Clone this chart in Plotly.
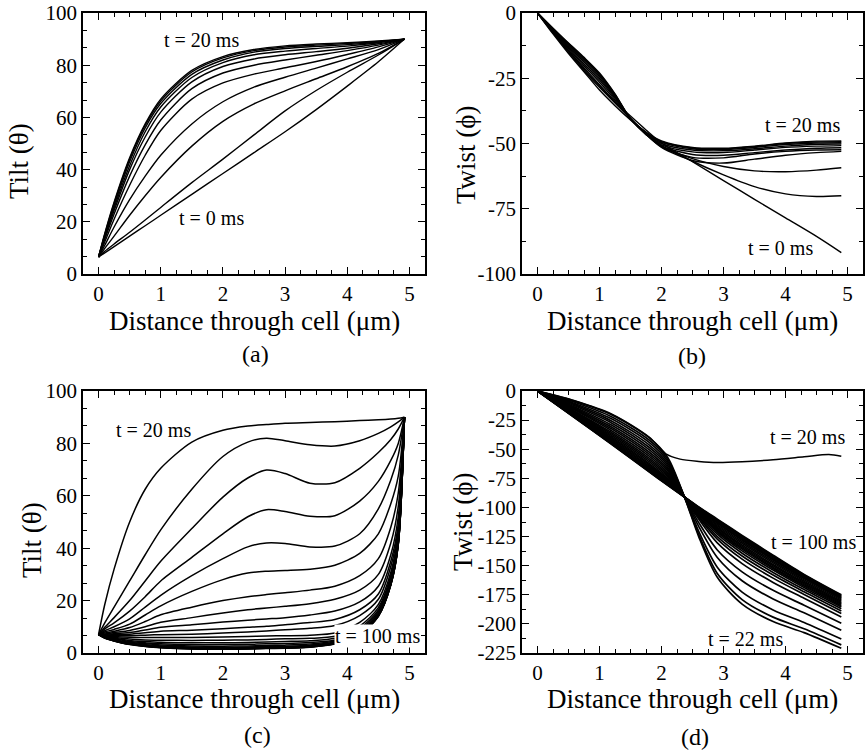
import plotly.graph_objects as go

# ---------------- DATA ----------------
# Panel (a): tilt, t = 0 ... 20 ms (every 2 ms)
a_x = [0, 0.1, 0.25, 0.5, 0.75, 1.0, 1.5, 2.0, 2.5, 3.0, 3.5, 4.0, 4.5, 4.92]
a_t0 = [6.5, 8.1, 10.5, 14.5, 18.5, 22.5, 30.5, 38.5, 46.5, 54.5, 63, 72, 81.3, 90]
a_t2 = [6.5, 8.7, 11.5, 16, 20.7, 25.5, 35, 44, 53.3, 62.5, 70.3, 77.3, 83.9, 90]
a_t4 = [6.5, 9.8, 14.5, 22.5, 30, 37, 49, 58.5, 65.2, 70.2, 74.8, 79.4, 84.5, 90]
a_t6 = [6.5, 11, 18, 28.5, 37.5, 45.5, 57.5, 66, 71.6, 75.4, 78.9, 82.4, 86, 90]
a_t8 = [6.5, 12.3, 21, 34, 45.5, 55, 67, 73.2, 76.6, 79, 81.4, 84.1, 87, 90]
a_t10 = [6.5, 13.3, 23, 37.5, 49.5, 59, 71, 77, 80, 82, 83.8, 85.6, 87.7, 90]
a_t12 = [6.5, 14, 24.3, 40, 52.5, 62, 73.6, 79.5, 82.4, 84, 85.2, 86.5, 88.2, 90]
a_t14 = [6.5, 14.4, 25.3, 41.5, 54.5, 64, 75.3, 81, 84, 85.4, 86.4, 87.3, 88.6, 90]
a_t16 = [6.5, 14.8, 26.2, 43, 56, 65.3, 76.5, 82, 85, 86.4, 87.2, 87.9, 88.9, 90]
a_t18 = [6.5, 15.2, 27, 44, 57, 66.3, 77.4, 82.8, 85.6, 87, 87.7, 88.3, 89.1, 90]
a_t20 = [6.5, 15.5, 27.5, 44.5, 57.5, 67, 78, 83.3, 86, 87.4, 88.1, 88.6, 89.3, 90]

# Panel (b): twist, t = 0 ... 20 ms
b_x = [0, 0.25, 0.5, 0.75, 1.0, 1.25, 1.5, 1.75, 2.0, 2.5, 3.0, 3.5, 4.0, 4.5, 4.9]
b_t0 = [0, -7.5, -14.5, -21.5, -28, -34, -39.5, -44.8, -49.8, -57, -64.2, -71.4, -78.5, -85.6, -91.8]
b_t2 = [0, -8, -15.5, -22.5, -29.5, -35.5, -41, -46, -50.8, -56.8, -62, -66.5, -69.3, -70.3, -70]
b_t4 = [0, -7.6, -15, -22, -28.5, -34.5, -40.5, -46, -51, -55.8, -58.8, -60.5, -60.8, -60.2, -59.3]
b_t6 = [0, -7.2, -14.3, -21, -27.5, -34, -40.5, -46.5, -51.5, -56.5, -57.5, -56, -54.5, -53.5, -53]
b_t8 = [0, -6.9, -13.7, -20.2, -26.5, -33.3, -40.5, -46.5, -51.3, -55.3, -55.5, -54, -53, -52.5, -52.4]
b_t10 = [0, -6.6, -13.2, -19.5, -25.7, -32.7, -40.5, -46.5, -51, -54.2, -54.5, -53.5, -52.5, -51.8, -51.6]
b_t12 = [0, -6.4, -12.7, -18.8, -25, -32.2, -40.5, -46.3, -50.5, -53.2, -53.5, -52.5, -51.5, -51, -50.8]
b_t14 = [0, -6.2, -12.3, -18.2, -24.3, -31.8, -40.5, -46.2, -50, -52.5, -52.8, -52, -51, -50.3, -50.2]
b_t16 = [0, -6, -12, -17.7, -23.8, -31.5, -40.5, -46, -49.6, -52, -52.3, -51.5, -50.4, -49.8, -49.7]
b_t18 = [0, -5.9, -11.7, -17.3, -23.4, -31.2, -40.5, -45.8, -49.3, -51.7, -52, -51.2, -50, -49.4, -49.3]
b_t20 = [0, -5.8, -11.5, -17, -23, -31, -40.5, -45.6, -49, -51.5, -51.8, -51, -49.8, -49.1, -49.0]

# Panel (c): tilt, t = 20 ... 100 ms
c_x = [0, 0.1, 0.25, 0.5, 0.75, 1.0, 1.5, 2.0, 2.4, 2.7, 3.0, 3.4, 3.8, 4.2, 4.5, 4.7, 4.82, 4.92]
c_t20 = [7, 18.5, 32, 50, 62.5, 70.5, 80.5, 85, 86.6, 87.2, 87.7, 88, 88.3, 88.7, 89, 89.3, 89.6, 90]
c_t22 = [7, 11.5, 17.5, 27.5, 37.5, 47, 62.5, 75, 80.5, 82, 81, 79.5, 79, 81, 83.8, 86.3, 88.2, 90]
c_t24 = [7, 9.8, 13.5, 20, 27.5, 35, 47.5, 59.5, 66.8, 69.8, 68.5, 64.8, 65, 70.5, 76.5, 81.5, 85.5, 90]
c_t26 = [7, 9.2, 11.5, 16, 21.5, 27.5, 36.5, 45.5, 52, 54.7, 54, 52.2, 52.4, 58, 65.5, 73.5, 80, 90]
c_t28 = [7, 8.5, 10, 13, 17.5, 22, 29.5, 36, 40.5, 42, 41.8, 40.5, 40.8, 45.5, 55, 66, 75.5, 90]
c_t30 = [7, 8, 9, 11, 14.5, 18, 23.5, 28, 30.5, 31.2, 31.5, 32, 33.5, 38, 45.5, 57, 67.5, 90]
c_t32 = [7, 7.6, 8.3, 9.7, 12, 14.6, 17.5, 20, 21.5, 22.3, 23, 24, 25.5, 29.5, 36, 48, 61, 90]
c_t34 = [7, 7.3, 7.8, 8.6, 10, 11.7, 13.5, 15.3, 16.5, 17.2, 17.8, 18.8, 20.5, 24, 30, 42, 56, 90]
c_t36 = [7, 7.1, 7.3, 7.8, 8.8, 9.8, 10.8, 11.8, 12.5, 13, 13.5, 14.5, 16, 19.5, 25.5, 37.5, 52, 90]
c_t38 = [7, 6.9, 7, 7.2, 7.7, 8.3, 8.7, 9.3, 9.8, 10.2, 10.8, 11.6, 12.8, 16.5, 22.5, 35, 49, 90]
c_t40 = [7, 6.8, 6.7, 6.6, 6.8, 7, 7.2, 7.6, 8, 8.4, 8.9, 9.4, 10.5, 14.3, 20.5, 33, 47.5, 90]
c_t44 = [7, 6.6, 6.3, 6, 5.9, 5.9, 5.9, 6.1, 6.3, 6.5, 6.6, 6.8, 7.6, 11.7, 18.5, 30.8, 46, 90]
c_t48 = [7, 6.5, 6, 5.3, 5, 4.9, 4.8, 4.9, 5.0, 5.2, 5.4, 5.6, 6.4, 10.3, 17.3, 29.5, 45, 90]
c_t52 = [7, 6.3, 5.7, 4.8, 4.4, 4.1, 3.9, 3.9, 4.0, 4.2, 4.4, 4.7, 5.6, 9.4, 16.4, 28.5, 44, 90]
c_t56 = [7, 6.2, 5.4, 4.4, 3.9, 3.5, 3.2, 3.2, 3.3, 3.5, 3.6, 4.0, 5.0, 8.7, 15.8, 27.8, 43.3, 90]
c_t60 = [7, 6.1, 5.2, 4.1, 3.5, 3.1, 2.7, 2.6, 2.7, 2.9, 3.0, 3.4, 4.6, 8.2, 15.2, 27.2, 42.8, 90]
c_t66 = [7, 6, 5, 3.8, 3.2, 2.7, 2.3, 2.2, 2.3, 2.5, 2.6, 3.0, 4.2, 7.8, 14.8, 26.8, 42.3, 90]
c_t72 = [7, 5.9, 4.9, 3.6, 3, 2.5, 2.0, 1.9, 2.0, 2.2, 2.3, 2.7, 4.0, 7.5, 14.5, 26.5, 42, 90]
c_t78 = [7, 5.8, 4.8, 3.5, 2.8, 2.3, 1.8, 1.7, 1.8, 2.0, 2.1, 2.5, 3.8, 7.3, 14.3, 26.2, 41.7, 90]
c_t84 = [7, 5.8, 4.7, 3.4, 2.7, 2.2, 1.7, 1.6, 1.7, 1.9, 2.0, 2.4, 3.7, 7.2, 14.2, 26.1, 41.6, 90]
c_t90 = [7, 5.7, 4.7, 3.3, 2.6, 2.1, 1.6, 1.5, 1.6, 1.8, 1.9, 2.3, 3.6, 7.1, 14.1, 26, 41.5, 90]
c_t95 = [7, 5.7, 4.6, 3.3, 2.6, 2.1, 1.6, 1.5, 1.6, 1.8, 1.9, 2.3, 3.5, 7.0, 14.0, 26, 41.4, 90]
c_t100 = [7, 5.7, 4.6, 3.2, 2.5, 2.0, 1.5, 1.4, 1.5, 1.7, 1.8, 2.2, 3.4, 7.0, 14.0, 25.9, 41.3, 90]

# Panel (d): twist, t = 20 ... 100 ms
d_x20 = [0, 0.6, 1.2, 1.8, 2.07, 2.3, 2.6, 2.9, 3.3, 3.8, 4.3, 4.7, 4.9]
d_t20 = [0, -8.3, -19.8, -39.5, -54, -58.5, -60.5, -61.5, -60.8, -59, -56.5, -54.5, -56]
d_x = [0, 0.6, 1.2, 1.8, 2.1, 2.37, 2.6, 2.9, 3.3, 3.8, 4.3, 4.9]
d_t22 = [0, -8.7, -20.5, -40, -57, -91, -125, -160, -183, -198, -207.5, -221]
d_t24 = [0, -9.7, -22.3, -42.1, -58.7, -91, -123.3, -156.7, -179.1, -194.2, -204.2, -218]
d_t26 = [0, -10.7, -24.1, -44.1, -60.4, -91, -120.5, -151.3, -172.7, -188, -198.8, -213]
d_t28 = [0, -11.7, -25.9, -46.2, -62, -91, -116.3, -143, -163, -178.6, -190.5, -205.4]
d_t30 = [0, -12.7, -27.6, -48.3, -63.7, -91, -113, -136.5, -155.3, -171.2, -184, -199.5]
d_t32 = [0, -13.7, -29.4, -50.3, -65.4, -91, -110, -130.5, -148.2, -164.4, -178, -194]
d_t34 = [0, -14.7, -31.2, -52.4, -67.1, -91, -108.3, -127.2, -144.4, -160.7, -174.7, -191]
d_t36 = [0, -15.6, -32.7, -54.2, -68.5, -91, -107.1, -125, -141.7, -158.1, -172.5, -189]
d_t38 = [0, -16.4, -34.3, -55.9, -70, -91, -106.1, -123, -139.3, -155.8, -170.5, -187]
d_t40 = [0, -17.3, -35.8, -57.7, -71.4, -91, -105.2, -121.3, -137.3, -153.8, -168.8, -185.5]
d_t44 = [0, -18, -37.1, -59.2, -72.6, -91, -104.6, -120, -135.8, -152.4, -167.5, -184.4]
d_t48 = [0, -18.7, -38.4, -60.7, -73.8, -91, -104.1, -119, -134.6, -151.3, -166.5, -183.4]
d_t52 = [0, -19.4, -39.6, -62.1, -75, -91, -103.6, -118, -133.4, -150.1, -165.5, -182.5]
d_t56 = [0, -20, -40.6, -63.3, -76, -91, -103.1, -117, -132.3, -149, -164.5, -181.6]
d_t60 = [0, -20.6, -41.7, -64.5, -76.9, -91, -102.5, -115.8, -130.8, -147.6, -163.3, -180.5]
d_t66 = [0, -21.1, -42.6, -65.5, -77.8, -91, -101.9, -114.7, -129.5, -146.4, -162.2, -179.5]
d_t72 = [0, -21.6, -43.5, -66.6, -78.6, -91, -101.3, -113.6, -128.2, -145.1, -161.1, -178.5]
d_t78 = [0, -22, -44.2, -67.4, -79.3, -91, -101, -112.8, -127.4, -144.2, -160.3, -177.8]
d_t84 = [0, -22.4, -44.9, -68.2, -79.9, -91, -100.5, -112, -126.4, -143.3, -159.5, -177]
d_t90 = [0, -22.6, -45.4, -68.8, -80.4, -91, -100.1, -111.2, -125.4, -142.4, -158.7, -176.3]
d_t95 = [0, -22.9, -45.7, -69.2, -80.8, -91, -99.8, -110.6, -124.6, -141.6, -158.1, -175.7]
d_t100 = [0, -23, -46, -69.5, -81, -91, -99.5, -110, -124, -141, -157.5, -175]

# Tick labels
x_tickvals = [0, 1, 2, 3, 4, 5]
x_ticktext = ["0", "1", "2", "3", "4", "5"]
tilt_tickvals = [0, 20, 40, 60, 80, 100]
tilt_ticktext = ["0", "20", "40", "60", "80", "100"]
twist_b_tickvals = [0, -25, -50, -75, -100]
twist_b_ticktext = ["0", "-25", "-50", "-75", "-100"]
twist_d_tickvals = [0, -25, -50, -75, -100, -125, -150, -175, -200, -225]
twist_d_ticktext = ["0", "-25", "-50", "-75", "-100", "-125", "-150", "-175", "-200", "-225"]

# ---------------- FIGURE ----------------
FONT = "Liberation Serif, Times New Roman, serif"
W, H = 865, 750

a_curves = [a_t0, a_t2, a_t4, a_t6, a_t8, a_t10, a_t12, a_t14, a_t16, a_t18, a_t20]
b_curves = [b_t0, b_t2, b_t4, b_t6, b_t8, b_t10, b_t12, b_t14, b_t16, b_t18, b_t20]
c_curves = [c_t20, c_t22, c_t24, c_t26, c_t28, c_t30, c_t32, c_t34, c_t36, c_t38, c_t40,
            c_t44, c_t48, c_t52, c_t56, c_t60, c_t66, c_t72, c_t78, c_t84, c_t90, c_t95, c_t100]
d_curves = [d_t22, d_t24, d_t26, d_t28, d_t30, d_t32, d_t34, d_t36, d_t38, d_t40,
            d_t44, d_t48, d_t52, d_t56, d_t60, d_t66, d_t72, d_t78, d_t84, d_t90, d_t95, d_t100]

fig = go.Figure()


def add_curve(xs, ys, xa, ya, width=1.4):
    fig.add_trace(go.Scatter(
        x=xs, y=ys, mode="lines",
        line=dict(color="black", width=width, shape="spline", smoothing=0.8),
        xaxis=xa, yaxis=ya, showlegend=False, hoverinfo="skip"))


for ys in a_curves:
    add_curve(a_x, ys, "x", "y")
for ys in b_curves:
    add_curve(b_x, ys, "x2", "y2")
for ys in c_curves:
    add_curve(c_x, ys, "x3", "y3", 1.5)
add_curve(d_x20, d_t20, "x4", "y4", 1.5)
for ys in d_curves:
    add_curve(d_x, ys, "x4", "y4", 1.7)


def px_x(p):
    return p / W


def px_y(p):
    return 1 - p / H


def axis(domain, rng, tickvals, ticktext, minor_dtick, anchor):
    return dict(
        domain=domain, range=rng, anchor=anchor, automargin=False,
        tickmode="array", tickvals=tickvals, ticktext=ticktext,
        showline=True, linecolor="black", linewidth=1.5, mirror="ticks",
        ticks="inside", ticklen=7, tickwidth=1.4, tickcolor="black",
        showgrid=False, zeroline=False,
        tickfont=dict(family=FONT, size=21, color="black"),
        minor=dict(ticks="inside", ticklen=4, tickwidth=1.2, tickcolor="black",
                   tickmode="linear", tick0=0, dtick=minor_dtick, showgrid=False),
    )


xdom_l = [px_x(83), px_x(425)]
xdom_r = [px_x(522), px_x(863)]
ydom_t = [px_y(274), px_y(13)]
ydom_b = [px_y(653), px_y(391)]
xr = [-0.25, 5.25]

fig.update_layout(
    width=W, height=H, autosize=False,
    margin=dict(l=0, r=0, t=0, b=0),
    paper_bgcolor="white", plot_bgcolor="white",
    xaxis=axis(xdom_l, xr, x_tickvals, x_ticktext, 0.25, "y"),
    yaxis=axis(ydom_t, [0, 100], tilt_tickvals, tilt_ticktext, 20 / 3, "x"),
    xaxis2=axis(xdom_r, xr, x_tickvals, x_ticktext, 0.25, "y2"),
    yaxis2=axis(ydom_t, [-100, 0], twist_b_tickvals, twist_b_ticktext, 12.5, "x2"),
    xaxis3=axis(xdom_l, xr, x_tickvals, x_ticktext, 0.25, "y3"),
    yaxis3=axis(ydom_b, [0, 100], tilt_tickvals, tilt_ticktext, 20 / 3, "x3"),
    xaxis4=axis(xdom_r, xr, x_tickvals, x_ticktext, 0.25, "y4"),
    yaxis4=axis(ydom_b, [-225, 0], twist_d_tickvals, twist_d_ticktext, 12.5, "x4"),
)

annots = []


def note(text, x, y, size, angle=0, bg=None):
    d = dict(text=text, x=px_x(x), y=px_y(y), xref="paper", yref="paper",
             xanchor="center", yanchor="middle", showarrow=False, textangle=angle,
             font=dict(family=FONT, size=size, color="black"))
    if bg:
        d["bgcolor"] = bg
        d["borderpad"] = 0
    annots.append(d)


xtitle = "Distance through cell (μm)"
note(xtitle, 254, 321, 27)
note(xtitle, 692, 321, 27)
note(xtitle, 254, 699, 27)
note(xtitle, 692, 699, 27)
note("Tilt (θ)", 19, 161, 27, -90)
note("Twist (ϕ)", 466, 154, 27, -90)
note("Tilt (θ)", 32, 540, 27, -90)
note("Twist (ϕ)", 463, 522, 27, -90)
note("(a)", 255, 354, 24)
note("(b)", 692, 356, 24)
note("(c)", 257, 735, 24)
note("(d)", 695, 737, 24)
note("t = 20 ms", 201, 40, 20)
note("t = 0 ms", 211, 218, 20)
note("t = 20 ms", 802, 125, 20)
note("t = 0 ms", 780, 248, 20)
note("t = 20 ms", 153, 430, 20)
note("t = 100 ms", 377, 636, 20, bg="white")
note("t = 20 ms", 807, 437, 20)
note("t = 100 ms", 813, 542, 20)
note("t = 22 ms", 745, 639, 20)

fig.update_layout(annotations=annots)

fig.write_html(
    "out.html",
    config={"displayModeBar": False},
    post_script="document.body.style.margin='0px';document.body.style.padding='0px';",
)
